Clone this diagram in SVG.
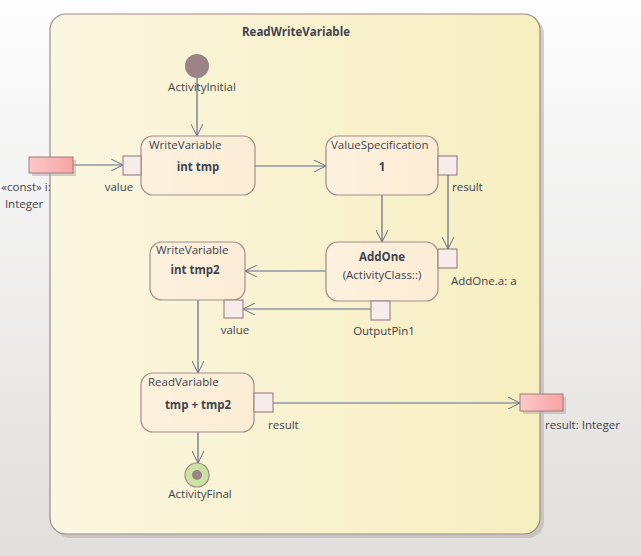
<svg xmlns="http://www.w3.org/2000/svg" width="641" height="556" viewBox="0 0 641 556">
<defs>
<linearGradient id="bg" x1="0" y1="0" x2="0" y2="1"><stop offset="0" stop-color="#fdfdfd"/><stop offset="1" stop-color="#e1dfde"/></linearGradient>
<linearGradient id="frame" x1="0" y1="0" x2="1" y2="0"><stop offset="0" stop-color="#fbf6e0"/><stop offset="1" stop-color="#f7eec0"/></linearGradient>
<linearGradient id="act" x1="0" y1="0" x2="1" y2="0"><stop offset="0" stop-color="#fdf1de"/><stop offset="1" stop-color="#fcecd4"/></linearGradient>
<linearGradient id="param" x1="0" y1="0" x2="1" y2="0"><stop offset="0" stop-color="#fcc8c8"/><stop offset="1" stop-color="#f7a3a3"/></linearGradient>
<marker id="arr" markerWidth="14" markerHeight="12" refX="12" refY="6" orient="auto" markerUnits="userSpaceOnUse"><path d="M0,0 L12,6 L0,12" fill="none" stroke="#5d6b8c" stroke-width="1"/></marker>
<style>
text{font-family:"Open Sans","Noto Sans",sans-serif;font-size:11.5px;fill:#3d4450}
.b{font-weight:bold}
.t{font-weight:bold}
.node{fill:url(#act);stroke:#a38d8d;stroke-width:1.2}
.pin{fill:#f8ecea;stroke:#a08888;stroke-width:1.2}
.par{fill:url(#param);stroke:#a07c7c;stroke-width:1}
.e{stroke:#5d6b8c;stroke-width:1.2;fill:none}
.sh{fill:#b8b2ae;opacity:0.6}
</style>
</defs>
<rect width="641" height="556" fill="url(#bg)"/>
<g id="frame-ReadWriteVariable">
<rect x="54" y="18" width="490" height="520" rx="16" class="sh"/>
<rect x="50" y="14" width="490" height="520" rx="16" fill="url(#frame)" stroke="#9e8a8a" stroke-width="1.2"/>
<text x="296" y="36" text-anchor="middle" class="t">ReadWriteVariable</text>
</g>
<g id="connectors">
<path d="M197,78 V136" class="e" marker-end="url(#arr)"/>
<path d="M73,165 H123" class="e" marker-end="url(#arr)"/>
<path d="M255,166 H326" class="e" marker-end="url(#arr)"/>
<path d="M448,175 V249" class="e" marker-end="url(#arr)"/>
<path d="M382,195 V242" class="e" marker-end="url(#arr)"/>
<path d="M326,271 H245" class="e" marker-end="url(#arr)"/>
<path d="M371,309 H243" class="e" marker-end="url(#arr)"/>
<path d="M198,300 V373" class="e" marker-end="url(#arr)"/>
<path d="M273,403 H520" class="e" marker-end="url(#arr)"/>
<path d="M198,432 V463" class="e" marker-end="url(#arr)"/>
</g>
<g id="ActivityInitial">
<circle cx="197" cy="66" r="12" fill="#9c8486"/>
<text x="202" y="91" text-anchor="middle">ActivityInitial</text>
</g>
<g id="param-i">
<rect x="32" y="160" width="44" height="16" class="sh"/>
<rect x="29" y="157" width="44" height="16" class="par"/>
<text x="26" y="191" text-anchor="middle">«const» i:</text>
<text x="24" y="208" text-anchor="middle">Integer</text>
</g>
<g id="WriteVariable1">
<rect x="141" y="136" width="114" height="59" rx="12" class="node"/>
<text x="149" y="149">WriteVariable</text>
<text x="198" y="171" text-anchor="middle" class="b">int tmp</text>
<rect x="123" y="156" width="18" height="19" class="pin"/>
<text x="119" y="191" text-anchor="middle">value</text>
</g>
<g id="ValueSpecification">
<rect x="326" y="136" width="112" height="59" rx="12" class="node"/>
<text x="331" y="149">ValueSpecification</text>
<text x="382" y="171" text-anchor="middle" class="b">1</text>
<rect x="438" y="156" width="19" height="19" class="pin"/>
<text x="452" y="191">result</text>
</g>
<g id="AddOne">
<rect x="326" y="242" width="112" height="59" rx="12" class="node"/>
<text x="382" y="261" text-anchor="middle" class="b">AddOne</text>
<text x="382" y="279" text-anchor="middle">(ActivityClass::)</text>
<rect x="438" y="249" width="19" height="19" class="pin"/>
<text x="451" y="285">AddOne.a: a</text>
<rect x="371" y="301" width="19" height="19" class="pin"/>
<text x="384" y="335" text-anchor="middle">OutputPin1</text>
</g>
<g id="WriteVariable2">
<rect x="150" y="242" width="95" height="58" rx="12" class="node"/>
<text x="156" y="254">WriteVariable</text>
<text x="195" y="274" text-anchor="middle" class="b">int tmp2</text>
<rect x="224" y="300" width="19" height="18" class="pin"/>
<text x="235" y="334" text-anchor="middle">value</text>
</g>
<g id="ReadVariable">
<rect x="141" y="373" width="113" height="59" rx="12" class="node"/>
<text x="148" y="386">ReadVariable</text>
<text x="198" y="409" text-anchor="middle" class="b">tmp + tmp2</text>
<rect x="254" y="393" width="19" height="19" class="pin"/>
<text x="268" y="429">result</text>
</g>
<g id="param-result">
<rect x="523" y="397" width="43" height="17" class="sh"/>
<rect x="520" y="394" width="43" height="17" class="par"/>
<text x="545" y="429">result: Integer</text>
</g>
<g id="ActivityFinal">
<circle cx="197" cy="475" r="12" fill="#cce2a4" stroke="#a08c8c" stroke-width="1.2"/>
<circle cx="197" cy="475" r="5" fill="#9c8486"/>
<text x="200" y="498" text-anchor="middle">ActivityFinal</text>
</g>
</svg>
